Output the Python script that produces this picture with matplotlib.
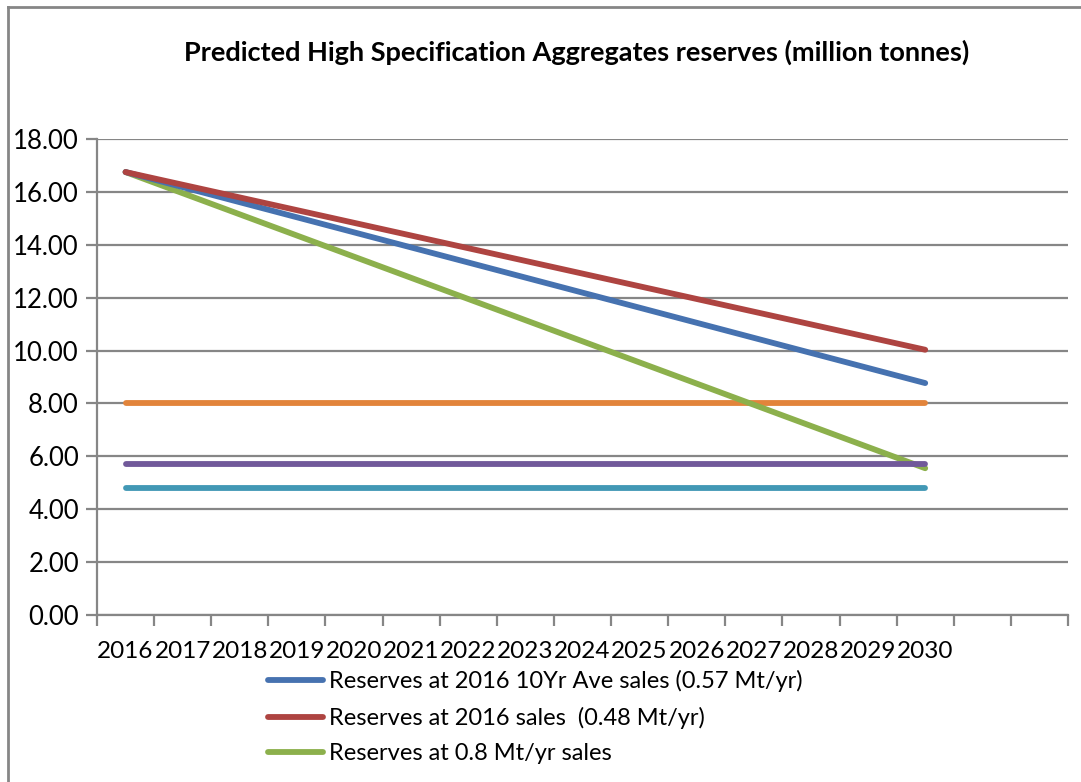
import matplotlib
matplotlib.use("Agg")
import matplotlib.pyplot as plt
from matplotlib.lines import Line2D

plt.rcParams['font.family'] = ['Lato', 'DejaVu Sans']

years = ['2016', '2017', '2018', '2019', '2020', '2021', '2022', '2023',
         '2024', '2025', '2026', '2027', '2028', '2029', '2030', '', '']

ave_10yr = [16.75, 16.18, 15.61, 15.04, 14.47, 13.90, 13.33, 12.76,
            12.19, 11.62, 11.05, 10.48, 9.91, 9.34, 8.77]
sales_2016 = [16.75, 16.27, 15.79, 15.31, 14.83, 14.35, 13.87, 13.39,
              12.91, 12.43, 11.95, 11.47, 10.99, 10.51, 10.03]
sales_08 = [16.75, 15.95, 15.15, 14.35, 13.55, 12.75, 11.95, 11.15,
            10.35, 9.55, 8.75, 7.95, 7.15, 6.35, 5.55]
flat_orange = [8.0] * 15
flat_purple = [5.7] * 15
flat_cyan = [4.8] * 15

labels = ['Reserves at 2016 10Yr Ave sales (0.57 Mt/yr)',
          'Reserves at 2016 sales  (0.48 Mt/yr)',
          'Reserves at 0.8 Mt/yr sales']

fig = plt.figure(figsize=(10.81, 7.82), dpi=100)
ax = fig.add_axes([97/1081, 1 - 615/782, (1068 - 97)/1081, (615 - 139)/782])

x = list(range(15))
lw = 4.2
ax.plot(x, flat_orange, color='#E2843B', lw=lw, solid_capstyle='round')
ax.plot(x, flat_cyan, color='#4298B5', lw=lw, solid_capstyle='round')
ax.plot(x, sales_08, color='#8CB04C', lw=lw, solid_capstyle='round', label=labels[2])
ax.plot(x, flat_purple, color='#71599A', lw=lw, solid_capstyle='round')
ax.plot(x, ave_10yr, color='#4672B0', lw=lw, solid_capstyle='round', label=labels[0])
ax.plot(x, sales_2016, color='#AE4441', lw=lw, solid_capstyle='round', label=labels[1])

ax.set_xlim(-0.5, 16.5)
ax.set_ylim(0, 18)
ax.set_yticks(range(0, 19, 2))
ax.set_yticklabels(['%.2f' % v for v in range(0, 19, 2)], fontsize=18.5)
ax.set_xticks([i - 0.5 for i in range(18)])
ax.set_xticklabels([])
ax.set_xticks(range(17), minor=True)
ax.set_xticklabels(years, minor=True, fontsize=17.5)
ax.tick_params(axis='x', which='minor', length=0, pad=19)
ax.tick_params(axis='x', which='major', length=8, width=1.6, color='#868686', direction='out')
ax.tick_params(axis='y', length=8, width=1.6, color='#868686', direction='out', pad=5)

ax.grid(axis='y', color='#868686', lw=1.6)
ax.set_axisbelow(True)
for s in ['top', 'right']:
    ax.spines[s].set_visible(False)
for s in ['left', 'bottom']:
    ax.spines[s].set_color('#868686')
    ax.spines[s].set_linewidth(1.6)

fig.text(577/1081, 1 - 52/782,
         'Predicted High Specification Aggregates reserves (million tonnes)',
         ha='center', va='center', fontsize=19.5, fontweight='bold')

handles = [Line2D([], [], color=c, lw=lw, solid_capstyle='round')
           for c in ['#4672B0', '#AE4441', '#8CB04C']]
fig.legend(handles, labels, loc='upper left', bbox_to_anchor=(268/1081, 1 - 670/782),
           frameon=False, fontsize=17, handlelength=2.35, handletextpad=0.22,
           labelspacing=0.62, borderaxespad=0, borderpad=0)

# outer chart border (left and top visible)
fig.add_artist(Line2D([8/1081, 8/1081], [0, 1 - 7/782], color='#868686', lw=2,
                      transform=fig.transFigure))
fig.add_artist(Line2D([8/1081, 1], [1 - 7/782, 1 - 7/782], color='#868686', lw=2,
                      transform=fig.transFigure))

fig.savefig('out.png', dpi=100)
